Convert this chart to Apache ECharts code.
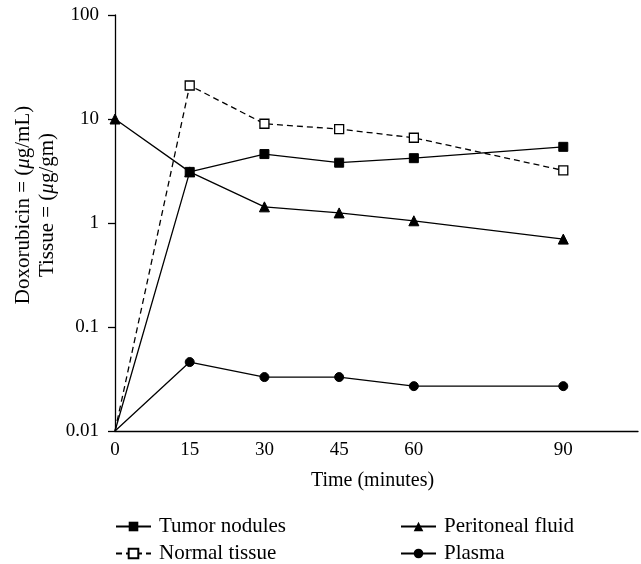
<!DOCTYPE html>
<html>
<head>
<meta charset="utf-8">
<script src="https://cdn.jsdelivr.net/npm/echarts@6/dist/echarts.min.js"></script>
<style>html,body{margin:0;padding:0;background:#fff}#c{width:641px;height:564px}</style>
</head>
<body>
<div id="c"></div>
<script>
var times = [0, 15, 30, 45, 60, 90];
var xTickLabels = ['0', '15', '30', '45', '60', '90'];
var yTickLabels = ['0.01', '0.1', '1', '10', '100'];
var tumorNodules = [0.01, 3.1, 4.6, 3.8, 4.2, 5.4];
var normalTissue = [0.01, 21, 9.0, 8.0, 6.6, 3.2];
var peritonealFluid = [10, 3.1, 1.43, 1.25, 1.05, 0.70];
var plasma = [0.01, 0.046, 0.033, 0.033, 0.027, 0.027];

var FONT = '"Liberation Serif", serif';
function pts(vals) {
  return times.map(function (t, i) {
    var d = { value: [t, vals[i]] };
    if (vals[i] <= 0.01) d.symbol = 'none';
    return d;
  });
}
var chart = echarts.init(document.getElementById('c'));
var lineStyle = { color: '#000', width: 1.3 };
var legendText = {
  color: '#000', fontFamily: FONT, fontSize: 21, lineHeight: 20,
  rich: { t: { color: '#000', fontFamily: FONT, fontSize: 21, lineHeight: 20, padding: [0, 0, 0, 3] } }
};
function legendFmt(name) { return '{t|' + name + '}'; }
chart.setOption({
  backgroundColor: '#fff',
  animation: false,
  grid: { left: 115, right: 3, top: 15, bottom: 133, containLabel: false },
  xAxis: {
    type: 'value', min: 0, max: 105, interval: 15,
    axisLine: { lineStyle: { color: '#000', width: 1.3 } },
    axisTick: { show: false },
    splitLine: { show: false },
    axisLabel: {
      color: '#000', fontFamily: FONT, fontSize: 19, margin: 10,
      formatter: function (v) { var s = String(v); return xTickLabels.indexOf(s) >= 0 ? s : ''; }
    },
    name: 'Time (minutes)', nameLocation: 'middle', nameGap: 40,
    nameTextStyle: { color: '#000', fontFamily: FONT, fontSize: 20, padding: [0, 8, 0, 0] }
  },
  yAxis: {
    type: 'log', logBase: 10, min: 0.01, max: 100,
    axisLine: { show: true, lineStyle: { color: '#000', width: 1.3 } },
    axisTick: { show: true, length: 7, lineStyle: { color: '#000', width: 1.3 } },
    splitLine: { show: false },
    minorTick: { show: false },
    axisLabel: {
      color: '#000', fontFamily: FONT, fontSize: 19, margin: 16,
      formatter: function (v) {
        for (var i = 0; i < yTickLabels.length; i++) {
          if (Math.abs(parseFloat(yTickLabels[i]) - v) < 1e-9 * Math.max(1, v)) return yTickLabels[i];
        }
        return '';
      }
    }
  },
  graphic: [{
    type: 'text', x: 35, y: 205, rotation: Math.PI / 2,
    style: {
      text: '{n|Doxorubicin = (}{i|\u03bc}{n|g/mL)}\n{n|Tissue = (}{i|\u03bc}{n|g/gm)}',
      align: 'center', verticalAlign: 'middle', fill: '#000',
      rich: {
        n: { fontFamily: FONT, fontSize: 21, lineHeight: 24, fill: '#000' },
        i: { fontFamily: FONT, fontSize: 21, lineHeight: 24, fontStyle: 'italic', fill: '#000' }
      }
    }
  }],
  legend: [{
    data: ['Tumor nodules', 'Normal tissue'],
    orient: 'vertical', left: 115, top: 516, itemGap: 6, padding: 0,
    itemWidth: 35, itemHeight: 12, formatter: legendFmt,
    textStyle: legendText
  }, {
    data: ['Peritoneal fluid', 'Plasma'],
    orient: 'vertical', left: 400, top: 516, itemGap: 6, padding: 0,
    itemWidth: 35, itemHeight: 12, formatter: legendFmt,
    textStyle: legendText
  }],
  series: [{
    name: 'Tumor nodules', type: 'line', data: pts(tumorNodules),
    symbol: 'rect', symbolSize: 9, lineStyle: lineStyle,
    itemStyle: { color: '#000', borderColor: '#000' }
  }, {
    name: 'Normal tissue', type: 'line', data: pts(normalTissue),
    symbol: 'rect', symbolSize: 9,
    lineStyle: { color: '#000', width: 1.3, type: [6, 4] },
    itemStyle: { color: '#fff', borderColor: '#000', borderWidth: 1.3 }
  }, {
    name: 'Peritoneal fluid', type: 'line', data: pts(peritonealFluid),
    symbol: 'triangle', symbolSize: 10, lineStyle: lineStyle,
    itemStyle: { color: '#000', borderColor: '#000' }
  }, {
    name: 'Plasma', type: 'line', data: pts(plasma),
    symbol: 'circle', symbolSize: 9, lineStyle: lineStyle,
    itemStyle: { color: '#000', borderColor: '#000' }
  }]
});
</script>
</body>
</html>
